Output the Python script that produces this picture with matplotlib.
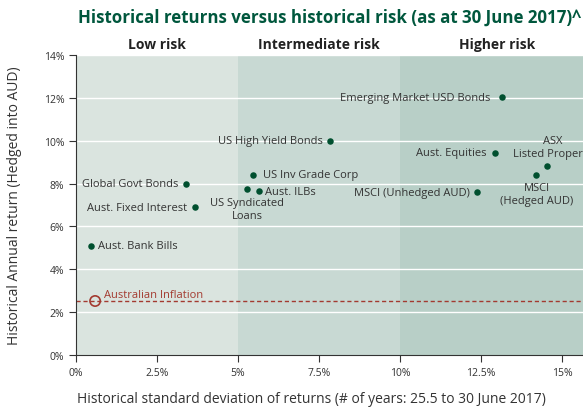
import matplotlib
matplotlib.use("Agg")
import matplotlib.pyplot as plt

plt.rcParams['font.family'] = ['Open Sans', 'DejaVu Sans']

# ---- data ----
assets = ["Aust. Bank Bills", "Global Govt Bonds", "Aust. Fixed Interest",
          "US Syndicated\nLoans", "US Inv Grade Corp", "Aust. ILBs",
          "US High Yield Bonds", "Emerging Market USD Bonds", "Aust. Equities",
          "MSCI (Unhedged AUD)", "MSCI\n(Hedged AUD)", "ASX\nListed Property"]
risk = [0.46, 3.40, 3.67, 5.28, 5.46, 5.65, 7.84, 13.15, 12.93, 12.38, 14.20, 14.54]
ret = [5.09, 7.98, 6.90, 7.75, 8.40, 7.65, 9.99, 12.04, 9.43, 7.60, 8.40, 8.82]
inflation_risk = 0.59
inflation_ret = 2.52
bands = [("Low risk", 0, 5), ("Intermediate risk", 5, 10), ("Higher risk", 10, 16)]
band_label_x = [2.5, 7.5, 13.0]
xticks = [0, 2.5, 5, 7.5, 10, 12.5, 15]
xticklabels = ["0%", "2.5%", "5%", "7.5%", "10%", "12.5%", "15%"]
yticks = [0, 2, 4, 6, 8, 10, 12, 14]
yticklabels = ["0%", "2%", "4%", "6%", "8%", "10%", "12%", "14%"]

# ---- layout (label offsets in pixels, ha) ----
offsets = [(7, 0, 'left'), (-8, 0, 'right'), (-8, 0, 'right'),
           (0, -20, 'center'), (10, 0, 'left'), (6, 0, 'left'),
           (-7, 0, 'right'), (-12, 0, 'right'), (-8, 0, 'right'),
           (-7, 0, 'right'), (1, -19, 'center'), (6, 19, 'center')]
band_colors = ["#dae4df", "#c8d9d3", "#b8cfc7"]
dot_color = "#00502f"
title_color = "#00573d"
infl_color = "#a33a30"
text_color = "#333333"

fig = plt.figure(figsize=(5.83, 4.10), dpi=100)
ax = fig.add_axes([76/583, 54/410, 1 - 76/583, 300/410])
ax.set_xlim(0, 15.65)
ax.set_ylim(0, 14)

for (name, a, b), c in zip(bands, band_colors):
    ax.axvspan(a, b, color=c, zorder=0, lw=0)
for (name, a, b), bx in zip(bands, band_label_x):
    ax.text(bx, 1.012, name, transform=ax.get_xaxis_transform(), ha='center', va='bottom',
            fontsize=10, fontweight='bold', color='#222222')

for y in yticks[1:]:
    ax.axhline(y, color='white', lw=1.0, zorder=1)

ax.scatter(risk, ret, s=22, color=dot_color, zorder=3, lw=0)
px = 72 / 100
for name, x, y, (dx, dy, ha) in zip(assets, risk, ret, offsets):
    ax.annotate(name, (x, y), xytext=(dx * px, dy * px), textcoords='offset points',
                ha=ha, va='center', fontsize=8, color=text_color, zorder=4,
                multialignment='center', linespacing=1.15)

ax.axhline(inflation_ret, color=infl_color, lw=1.0, ls=(0, (3, 2)), zorder=2)
ax.scatter([inflation_risk], [inflation_ret], s=55, facecolor='none', edgecolor=infl_color,
           lw=1.2, zorder=3)
ax.annotate("Australian Inflation", (inflation_risk, inflation_ret), xytext=(9 * px, 7 * px),
            textcoords='offset points', ha='left', va='center', fontsize=8, color=infl_color)

ax.set_xticks(xticks)
ax.set_xticklabels(xticklabels)
ax.set_yticks(yticks)
ax.set_yticklabels(yticklabels)
ax.tick_params(axis='both', labelsize=7.5, colors='#333333', length=5, width=0.8, direction='out')
for s in ['top', 'right']:
    ax.spines[s].set_visible(False)
for s in ['left', 'bottom']:
    ax.spines[s].set_color('#333333')
    ax.spines[s].set_linewidth(0.8)

ax.set_xlabel("Historical standard deviation of returns (# of years: 25.5 to 30 June 2017)",
              fontsize=10, color='#333333')
ax.xaxis.set_label_coords((311 - 76) / 507, -(400 - 356) / 300)
ax.xaxis.label.set_va('center')
ax.set_ylabel("Historical Annual return (Hedged into AUD)", fontsize=10, color='#333333')
ax.yaxis.set_label_coords(-(76 - 15) / 507, 0.5)
ax.yaxis.label.set_va('center')

fig.text(78/583, 1 - 18/410, "Historical returns versus historical risk (as at 30 June 2017)^",
         ha='left', va='center', fontsize=12.2, fontweight='bold', color=title_color)

fig.savefig("out.png", dpi=100)
